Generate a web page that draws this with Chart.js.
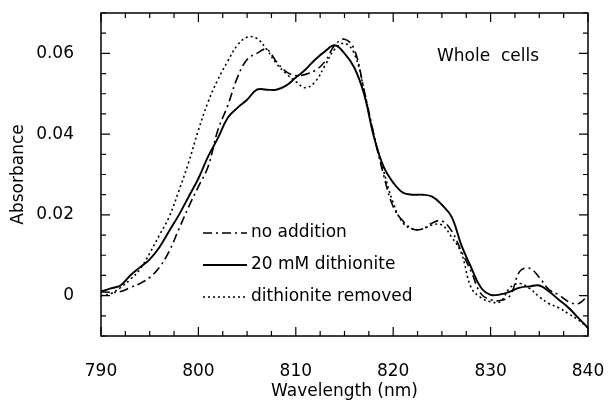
<!DOCTYPE html>
<html>
<head>
<meta charset="utf-8">
<script src="https://cdn.jsdelivr.net/npm/chart.js@4/dist/chart.umd.min.js"></script>
<style>
  html, body { margin: 0; padding: 0; background: #fff; }
  #wrap { width: 608px; height: 402px; }
</style>
</head>
<body>
<div id="wrap"><canvas id="spectra" width="608" height="402"></canvas></div>
<script>
// wavelength grid (nm)
const wavelength = [790, 791, 792, 793, 794, 795, 796, 797, 798, 799,
    800, 801, 802, 803, 804, 805, 806, 807, 808, 809,
    810, 811, 812, 813, 814, 815, 816, 817, 818, 819,
    820, 821, 822, 823, 824, 825, 826, 827, 828, 829,
    830, 831, 832, 833, 834, 835, 836, 837, 838, 839, 840];

// absorbance
const noAddition = [0.001, 0.0008, 0.001, 0.002, 0.003, 0.0045, 0.007, 0.011, 0.0165, 0.022,
    0.027, 0.032, 0.041, 0.047, 0.054, 0.0585, 0.060, 0.061, 0.058, 0.0555,
    0.0545, 0.0548, 0.0558, 0.058, 0.062, 0.0635, 0.061, 0.051, 0.040, 0.030,
    0.022, 0.0185, 0.0165, 0.0165, 0.018, 0.0185, 0.016, 0.011, 0.006, 0.0005,
    -0.001, -0.0012, 0.0, 0.006, 0.0068, 0.0045, 0.0015, 0.0002, -0.0015, -0.002, 0.0];

const dithionite = [0.001, 0.0018, 0.0025, 0.005, 0.007, 0.009, 0.012, 0.016, 0.020, 0.0245,
    0.029, 0.0345, 0.039, 0.044, 0.0465, 0.0485, 0.051, 0.051, 0.051, 0.052,
    0.054, 0.056, 0.0585, 0.0605, 0.062, 0.060, 0.0565, 0.050, 0.0395, 0.032,
    0.028, 0.0255, 0.025, 0.025, 0.0245, 0.0225, 0.0195, 0.0125, 0.007, 0.002,
    0.0002, 0.0003, 0.001, 0.002, 0.0023, 0.0025, 0.001, -0.001, -0.003, -0.0055, -0.008];

const removed = [0.0, 0.0005, 0.002, 0.004, 0.0065, 0.0105, 0.015, 0.0195, 0.026, 0.033,
    0.041, 0.048, 0.0535, 0.058, 0.062, 0.064, 0.0637, 0.061, 0.0575, 0.055,
    0.053, 0.0515, 0.053, 0.057, 0.061, 0.0625, 0.060, 0.051, 0.040, 0.031,
    0.023, 0.018, 0.0165, 0.0165, 0.0175, 0.0175, 0.0145, 0.0105, 0.002, -0.0005,
    -0.0015, -0.0015, 0.002, 0.003, 0.0018, -0.0003, -0.002, -0.003, -0.0045, -0.006, -0.008];

const seriesNames = ["no addition", "20 mM dithionite", "dithionite removed"];
const yLabels = [0, 0.02, 0.04, 0.06];
const xLabels = [790, 800, 810, 820, 830, 840];

const FONT = "DejaVu Sans";

function pts(vals) {
    return wavelength.map((w, i) => ({ x: w, y: vals[i] }));
}

function isLabel(list, v) {
    return list.some(t => Math.abs(t - v) < 1e-6);
}

// frame, inward ticks, titles, legend and note
const decor = {
    id: "decor",
    afterDatasetsDraw(chart) {
        const ctx = chart.ctx, a = chart.chartArea;
        const xs = chart.scales.x, ys = chart.scales.y;
        ctx.save();
        ctx.strokeStyle = "#000";
        ctx.lineWidth = 1.5;
        ctx.strokeRect(a.left, a.top, a.right - a.left, a.bottom - a.top);

        ctx.lineWidth = 1.2;
        ctx.beginPath();
        xs.ticks.forEach(t => {
            const px = xs.getPixelForValue(t.value);
            const len = isLabel(xLabels, t.value) ? 9 : 5;
            ctx.moveTo(px, a.bottom); ctx.lineTo(px, a.bottom - len);
            ctx.moveTo(px, a.top); ctx.lineTo(px, a.top + len);
        });
        ys.ticks.forEach(t => {
            const py = ys.getPixelForValue(t.value);
            const len = isLabel(yLabels, t.value) ? 9 : 5;
            ctx.moveTo(a.left, py); ctx.lineTo(a.left + len, py);
            ctx.moveTo(a.right, py); ctx.lineTo(a.right - len, py);
        });
        ctx.stroke();

        ctx.fillStyle = "#000";
        ctx.font = "17px '" + FONT + "'";
        ctx.textAlign = "center";
        ctx.textBaseline = "middle";
        ctx.fillText("Wavelength (nm)", (a.left + a.right) / 2, 392);
        ctx.save();
        ctx.translate(19, (a.top + a.bottom) / 2);
        ctx.rotate(-Math.PI / 2);
        ctx.fillText("Absorbance", 0, 0);
        ctx.restore();

        ctx.textAlign = "left";
        ctx.fillText("Whole  cells", 437, 57);

        // legend
        chart.data.datasets.forEach((ds, i) => {
            const y = 233 + i * 32;
            ctx.save();
            ctx.lineWidth = ds.borderWidth;
            ctx.setLineDash(ds.borderDash || []);
            ctx.beginPath();
            ctx.moveTo(203, y); ctx.lineTo(247, y);
            ctx.stroke();
            ctx.restore();
            ctx.fillText(ds.label, 251, y);
        });
        ctx.restore();
    }
};

new Chart(document.getElementById("spectra"), {
    type: "line",
    data: {
        datasets: [
            {
                label: seriesNames[0],
                data: pts(noAddition),
                borderColor: "#000",
                borderWidth: 1.6,
                borderDash: [9, 4, 2, 4],
            },
            {
                label: seriesNames[1],
                data: pts(dithionite),
                borderColor: "#000",
                borderWidth: 1.9,
            },
            {
                label: seriesNames[2],
                data: pts(removed),
                borderColor: "#000",
                borderWidth: 1.6,
                borderDash: [2, 3],
            },
        ],
    },
    plugins: [decor],
    options: {
        responsive: false,
        animation: false,
        events: [],
        elements: { point: { radius: 0 }, line: { tension: 0.4, fill: false } },
        layout: { padding: { top: 13, right: 20, left: 0, bottom: 0 } },
        plugins: { legend: { display: false }, tooltip: { enabled: false } },
        scales: {
            x: {
                type: "linear",
                min: 790,
                max: 840,
                afterFit: s => { s.height = 66; s.paddingLeft = 0; s.paddingRight = 0; },
                grid: { display: false },
                border: { display: false },
                ticks: {
                    stepSize: 2.5,
                    autoSkip: false,
                    maxRotation: 0,
                    padding: 17,
                    color: "#000",
                    font: { family: FONT, size: 17 },
                    callback: v => isLabel(xLabels, v) ? String(Math.round(v)) : "",
                },
            },
            y: {
                min: -0.01,
                max: 0.07,
                afterFit: s => { s.width = 101; s.paddingTop = 0; s.paddingBottom = 0; },
                grid: { display: false },
                border: { display: false },
                ticks: {
                    stepSize: 0.005,
                    autoSkip: false,
                    padding: 19,
                    color: "#000",
                    font: { family: FONT, size: 17 },
                    callback: v => isLabel(yLabels, v) ? String(Math.round(v * 100) / 100) : "",
                },
            },
        },
    },
});
</script>
</body>
</html>
